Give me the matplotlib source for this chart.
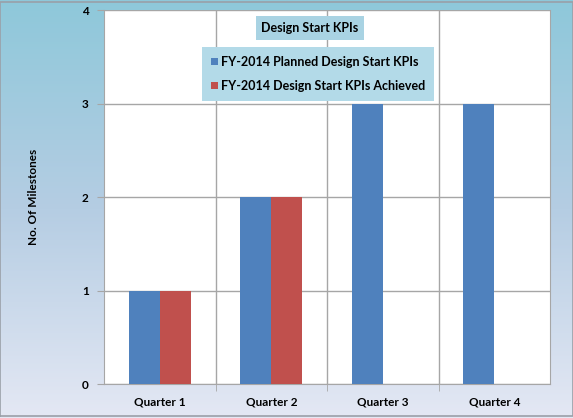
import numpy as np
import matplotlib.pyplot as plt
from matplotlib.colors import LinearSegmentedColormap

plt.rcParams['font.family'] = ['Lato', 'DejaVu Sans']
plt.rcParams['font.weight'] = 'bold'

quarters = ['Quarter 1', 'Quarter 2', 'Quarter 3', 'Quarter 4']
planned = [1, 2, 3, 3]
achieved = [1, 2, 0, 0]
series_names = ['FY-2014 Planned Design Start KPIs', 'FY-2014 Design Start KPIs Achieved']

fig = plt.figure(figsize=(5.73, 4.18), dpi=100)

# blue-to-lavender backdrop behind everything
bg = fig.add_axes([0, 0, 1, 1], zorder=-10)
grad = LinearSegmentedColormap.from_list('bg', ['#8ec8da', '#b5cde3', '#e4e8f4'])
bg.imshow(np.linspace(0, 1, 256).reshape(-1, 1), cmap=grad, aspect='auto',
          extent=[0, 1, 0, 1])
bg.set_xlim(0, 1)
bg.set_ylim(0, 1)
bg.axis('off')
bg.plot([0, 1, 1, 0, 0], [0.004, 0.004, 0.996, 0.996, 0.004], color='#9aa0a8', lw=1.2)

ax = fig.add_axes([0.1815, 0.0813, 0.7785, 0.8947])
ax.set_facecolor('white')

x = np.arange(len(quarters))
w = 0.278
ax.bar(x - w / 2, planned, w, color='#4f81bd', zorder=3, label=series_names[0])
ax.bar(x + w / 2, achieved, w, color='#c0504d', zorder=3, label=series_names[1])

ax.set_xlim(-0.5, 3.5)
ax.set_ylim(0, 4)
ax.set_yticks([0, 1, 2, 3, 4])
ax.set_xticks(x)
ax.set_xticklabels(quarters, fontsize=8.5, fontweight='bold')
ax.tick_params(axis='x', length=0, pad=9)
ax.set_xticks([0.5, 1.5, 2.5], minor=True)
ax.tick_params(axis='x', which='minor', length=5, color='#a6a6a6')
ax.tick_params(axis='y', length=5, color='#a6a6a6', labelsize=8.5, pad=6)
ax.grid(axis='y', color='#a6a6a6', lw=1, zorder=0)
ax.grid(axis='x', which='minor', color='#a6a6a6', lw=1, zorder=0)
for s in ax.spines.values():
    s.set_color('#a6a6a6')
ax.spines['top'].set_visible(False)
ax.set_ylabel('No. Of Milestones', fontsize=8.5, fontweight='bold', labelpad=31)

fig.text(310 / 573, 1 - 28 / 418, 'Design Start KPIs', ha='center', va='center',
         fontsize=9, fontweight='bold',
         bbox=dict(boxstyle='square,pad=0.45', fc='#a9d3e3', ec='none'))

leg = fig.legend(loc='upper left', bbox_to_anchor=(196 / 573, 1 - 41 / 418),
                 fontsize=9, frameon=True, fancybox=False, framealpha=1,
                 handlelength=0.55, handleheight=0.55, handletextpad=0.25,
                 labelspacing=0.95, borderpad=0.7)
leg.get_frame().set_facecolor('#b3dae8')
leg.get_frame().set_edgecolor('none')

fig.savefig('out.png', dpi=100)
